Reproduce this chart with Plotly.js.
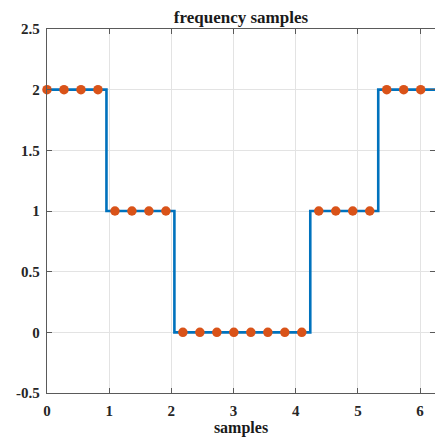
<!DOCTYPE html>
<html>
<head>
<meta charset="utf-8">
<script src="https://cdn.plot.ly/plotly-3.0.1.min.js"></script>
<style>html,body{margin:0;padding:0;overflow:hidden;background:#fff;}#chart{width:435px;height:437px;}</style>
</head>
<body>
<div id="chart"></div>
<script>
// Frequency samples: N = 23 samples over [0, 2π)
const N = 23;
const sampleIndex = Array.from({length: N}, (_, k) => k);
const sampleValues = [2, 2, 2, 2, 1, 1, 1, 1, 0, 0, 0, 0, 0, 0, 0, 0, 1, 1, 1, 1, 2, 2, 2];
const xTicks = [0, 1, 2, 3, 4, 5, 6];
const yTicks = [-0.5, 0, 0.5, 1, 1.5, 2, 2.5];

const sampleX = sampleIndex.map(k => 2 * Math.PI * k / N);
// periodic extension for the staircase line up to 2π
const lineX = sampleX.concat([2 * Math.PI]);
const lineY = sampleValues.concat([sampleValues[0]]);

const fontFam = '"Liberation Serif", "Times New Roman", serif';

const traces = [
  {
    x: lineX, y: lineY, type: 'scatter', mode: 'lines',
    line: {color: '#0072BD', width: 2.6, shape: 'hvh'},
    hoverinfo: 'skip', showlegend: false
  },
  {
    x: sampleX, y: sampleValues, type: 'scatter', mode: 'markers',
    marker: {color: '#D95319', size: 9.5, line: {width: 0}},
    showlegend: false, cliponaxis: false
  }
];

const axisCommon = {
  showline: true, linecolor: '#5a5a5a', linewidth: 1.2, mirror: 'ticks',
  ticks: 'inside', ticklen: 5, tickcolor: '#5a5a5a', tickwidth: 1,
  showgrid: true, gridcolor: '#e3e3e3', gridwidth: 1, zeroline: false,
  tickfont: {family: fontFam, size: 15, color: '#262626', weight: 'bold'}
};

const layout = {
  width: 435, height: 437,
  margin: {l: 47, r: 0, t: 29, b: 44},
  paper_bgcolor: '#ffffff', plot_bgcolor: '#ffffff',
  title: {
    text: 'frequency samples', x: 0.5, xref: 'paper', xanchor: 'center',
    y: 0.962, yref: 'container', yanchor: 'middle',
    font: {family: fontFam, size: 17, color: '#1a1a1a', weight: 'bold'}
  },
  xaxis: Object.assign({}, axisCommon, {
    range: [0, 6.24], tickvals: xTicks, ticktext: xTicks.map(String),
    ticklabelstandoff: 4,
    title: {text: 'samples', standoff: 4, font: {family: fontFam, size: 16, color: '#1a1a1a', weight: 'bold'}}
  }),
  yaxis: Object.assign({}, axisCommon, {
    range: [-0.5, 2.5], tickvals: yTicks, ticktext: yTicks.map(String),
    ticklabelstandoff: 3
  }),
  showlegend: false
};

Plotly.newPlot('chart', traces, layout, {displayModeBar: false, staticPlot: true});
</script>
</body>
</html>
